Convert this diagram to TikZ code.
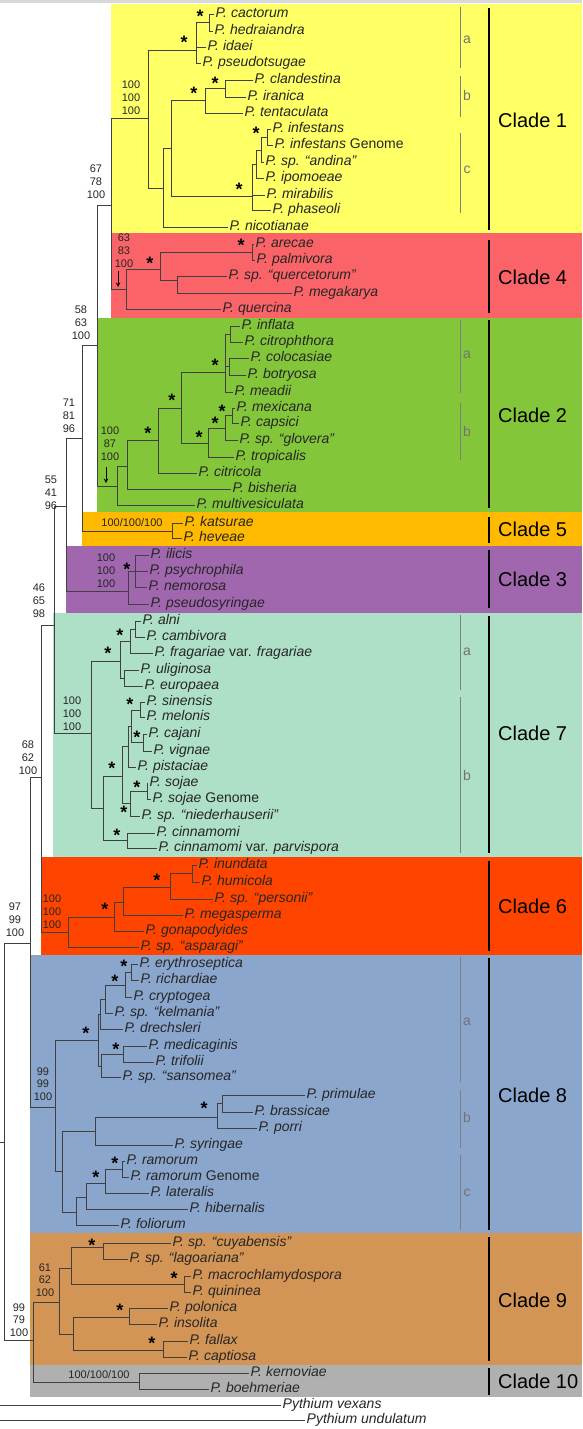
\documentclass[tikz,border=0pt]{standalone}
\usepackage{fontspec}
\setmainfont{Liberation Sans}
\usepackage{tikz}

\definecolor{cladeone}{HTML}{FFFF66}
\definecolor{cladefour}{HTML}{FA6468}
\definecolor{cladetwo}{HTML}{84C63A}
\definecolor{cladefive}{HTML}{FFBA00}
\definecolor{cladethree}{HTML}{A067AE}
\definecolor{cladeseven}{HTML}{AEDFC7}
\definecolor{cladesix}{HTML}{FF4400}
\definecolor{cladeeight}{HTML}{8BA6CC}
\definecolor{cladenine}{HTML}{D39555}
\definecolor{cladeten}{HTML}{B0B0B0}

\newcommand{\phy}[1]{\textit{P. #1}}
\newcommand{\taxfont}{\fontsize{14}{16}\selectfont}
\newcommand{\suppfont}{\fontsize{11}{12.8}\selectfont}

\tikzset{
  taxon/.style={anchor=west, inner sep=1.5pt, font=\taxfont, text=black!85, text height=10pt, text depth=3pt},
  supp/.style={inner sep=0pt, align=center, font=\suppfont, text=black!85},
  ast/.style={inner sep=0pt, font=\fontsize{18}{18}\selectfont\bfseries, text height=13pt, text depth=-7.8pt},
  cladetag/.style={anchor=west, inner sep=0pt, font=\fontsize{20}{20}\selectfont, text height=14.3pt, text depth=0pt},
  subtag/.style={inner sep=0pt, font=\taxfont, text=black!55, text height=10pt, text depth=3pt},
  edgeline/.style={draw=black!75, line width=0.8pt},
  cladebar/.style={draw=black, line width=1.4pt},
  subbar/.style={draw=black!50, line width=0.8pt},
  pointer/.style={->, >=stealth, draw=black, line width=1pt}
}

\begin{document}
\begin{tikzpicture}[x=1pt,y=1pt,yscale=-1,xscale=1]
\useasboundingbox (0,0) rectangle (582,1429);

%Shape: top rule
\fill[black!15] (0,0) rectangle (582,3);
%Shape: clade boxes
\fill[cladeone]   (111,4)    rectangle (582,233);
\fill[cladefour]  (111,233)  rectangle (582,318);
\fill[cladetwo]   (97,318)   rectangle (582,512);
\fill[cladefive]  (82,512)   rectangle (582,546);
\fill[cladethree] (66,546)   rectangle (582,613);
\fill[cladeseven] (53,613)   rectangle (582,857);
\fill[cladesix]   (41,857)   rectangle (582,955);
\fill[cladeeight] (30,955)   rectangle (582,1233);
\fill[cladenine]  (30,1233)  rectangle (582,1365);
\fill[cladeten]   (30,1365)  rectangle (582,1397);

% Clade 1 taxa
\node[taxon] (cac)  at (214,14)  {\phy{cactorum}};
\node[taxon] (hed)  at (213,31)  {\phy{hedraiandra}};
\node[taxon] (ida)  at (206,47)  {\phy{idaei}};
\node[taxon] (pst)  at (201,63)  {\phy{pseudotsugae}};
\node[taxon] (cla)  at (253,80)  {\phy{clandestina}};
\node[taxon] (ira)  at (246,97)  {\phy{iranica}};
\node[taxon] (ten)  at (243,113) {\phy{tentaculata}};
\node[taxon] (inf)  at (271,129) {\phy{infestans}};
\node[taxon] (infg) at (273,145) {\phy{infestans} Genome};
\node[taxon] (and)  at (264,162) {\phy{sp. ``andina''}};
\node[taxon] (ipo)  at (264,178) {\phy{ipomoeae}};
\node[taxon] (mir)  at (265,195) {\phy{mirabilis}};
\node[taxon] (pha)  at (271,210) {\phy{phaseoli}};
\node[taxon] (nic)  at (228,227) {\phy{nicotianae}};
\coordinate (ncac) at (209,22);
\coordinate (na)   at (196,50);
\coordinate (ncla) at (225,88);
\coordinate (nb)   at (205,100);
\coordinate (ninf) at (267,137);
\coordinate (nand) at (261,150);
\coordinate (nipo) at (256,164);
\coordinate (nc)   at (252,196);
\coordinate (nbc)  at (171,148);
\coordinate (nbcn) at (163,188);
\coordinate (nc1)  at (148,118);

% Clade 4 taxa
\node[taxon] (are)  at (254,244) {\phy{arecae}};
\node[taxon] (pal)  at (255,260) {\phy{palmivora}};
\node[taxon] (quer) at (227,276) {\phy{sp. ``quercetorum''}};
\node[taxon] (meg)  at (292,293) {\phy{megakarya}};
\node[taxon] (qcn)  at (221,309) {\phy{quercina}};
\coordinate (nare) at (252,252);
\coordinate (nque) at (177,280);
\coordinate (nap)  at (160,269);
\coordinate (nc4)  at (126,289);
\coordinate (nc14) at (111,205);

% Clade 2 taxa
\node[taxon] (infl) at (240,326) {\phy{inflata}};
\node[taxon] (citr) at (243,342) {\phy{citrophthora}};
\node[taxon] (col)  at (249,358) {\phy{colocasiae}};
\node[taxon] (bot)  at (246,375) {\phy{botryosa}};
\node[taxon] (mea)  at (233,392) {\phy{meadii}};
\node[taxon] (mex)  at (235,408) {\phy{mexicana}};
\node[taxon] (cap)  at (239,423) {\phy{capsici}};
\node[taxon] (glo)  at (238,440) {\phy{sp. ``glovera''}};
\node[taxon] (tro)  at (234,457) {\phy{tropicalis}};
\node[taxon] (citc) at (197,473) {\phy{citricola}};
\node[taxon] (bis)  at (231,489) {\phy{bisheria}};
\node[taxon] (mul)  at (195,505) {\phy{multivesiculata}};
\coordinate (ninfl) at (230,334);
\coordinate (ncol)  at (229,366);
\coordinate (ntwoa) at (225,372);
\coordinate (nmex)  at (232,415);
\coordinate (nglo)  at (225,428);
\coordinate (ntwob) at (208,443);
\coordinate (ntwoab) at (181,408);
\coordinate (ncit)  at (158,440);
\coordinate (nbis)  at (127,466);
\coordinate (nc2)   at (117,486);
\coordinate (nc142) at (97,345);

% Clade 5 taxa
\node[taxon] (kat) at (183,523) {\phy{katsurae}};
\node[taxon] (hev) at (182,538) {\phy{heveae}};
\coordinate (nc5)    at (172,531);
\coordinate (nc1425) at (82,438);

% Clade 3 taxa
\node[taxon] (ili) at (149,555) {\phy{ilicis}};
\node[taxon] (psy) at (148,571) {\phy{psychrophila}};
\node[taxon] (nem) at (147,587) {\phy{nemorosa}};
\node[taxon] (pss) at (149,604) {\phy{pseudosyringae}};
\coordinate (nili)    at (135,571);
\coordinate (nc3)     at (128,591);
\coordinate (nc14253) at (66,506);

% Clade 7 taxa
\node[taxon] (aln)  at (141,621) {\phy{alni}};
\node[taxon] (cam)  at (145,637) {\phy{cambivora}};
\node[taxon] (fra)  at (153,653) {\phy{fragariae} var. \textit{fragariae}};
\node[taxon] (uli)  at (139,670) {\phy{uliginosa}};
\node[taxon] (eur)  at (143,686) {\phy{europaea}};
\node[taxon] (sin)  at (145,702) {\phy{sinensis}};
\node[taxon] (mel)  at (145,717) {\phy{melonis}};
\node[taxon] (caj)  at (147,734) {\phy{cajani}};
\node[taxon] (vig)  at (152,751) {\phy{vignae}};
\node[taxon] (pis)  at (136,767) {\phy{pistaciae}};
\node[taxon] (soj)  at (148,783) {\phy{sojae}};
\node[taxon] (sojg) at (151,799) {\phy{sojae} Genome};
\node[taxon] (nie)  at (140,816) {\phy{sp. ``niederhauserii''}};
\node[taxon] (cin)  at (155,833) {\phy{cinnamomi}};
\node[taxon] (par)  at (157,848) {\phy{cinnamomi} var. \textit{parvispora}};
\coordinate (naln)  at (135,629);
\coordinate (nfra)  at (130,641);
\coordinate (nuli)  at (124,678);
\coordinate (nsevena) at (120,661);
\coordinate (nsin)  at (140,710);
\coordinate (ncaj)  at (143,742);
\coordinate (nsc)   at (131,726);
\coordinate (npis)  at (128,746);
\coordinate (nsoj)  at (147,791);
\coordinate (nnie)  at (130,803);
\coordinate (npn)   at (122,776);
\coordinate (ncin)  at (127,840);
\coordinate (nsevenb) at (103,808);
\coordinate (nc7)   at (91,733);
\coordinate (nc7up) at (54,625);

% Clade 6 taxa
\node[taxon] (inu)  at (197,865) {\phy{inundata}};
\node[taxon] (hum)  at (200,882) {\phy{humicola}};
\node[taxon] (per)  at (213,899) {\phy{sp. ``personii''}};
\node[taxon] (megs) at (183,915) {\phy{megasperma}};
\node[taxon] (gon)  at (144,931) {\phy{gonapodyides}};
\node[taxon] (asp)  at (139,947) {\phy{sp. ``asparagi''}};
\coordinate (ninu) at (192,873);
\coordinate (nper) at (170,887);
\coordinate (nmeg) at (123,902);
\coordinate (ngon) at (114,917);
\coordinate (nc6)  at (68,932);
\coordinate (nc37) at (41,777);

% Clade 8 taxa
\node[taxon] (ery)  at (138,964)  {\phy{erythroseptica}};
\node[taxon] (ric)  at (139,980)  {\phy{richardiae}};
\node[taxon] (cry)  at (132,997)  {\phy{cryptogea}};
\node[taxon] (kel)  at (113,1013) {\phy{sp. ``kelmania''}};
\node[taxon] (dre)  at (123,1029) {\phy{drechsleri}};
\node[taxon] (med)  at (147,1046) {\phy{medicaginis}};
\node[taxon] (tri)  at (154,1062) {\phy{trifolii}};
\node[taxon] (san)  at (121,1077) {\phy{sp. ``sansomea''}};
\node[taxon] (pri)  at (305,1095) {\phy{primulae}};
\node[taxon] (bra)  at (253,1112) {\phy{brassicae}};
\node[taxon] (por)  at (257,1128) {\phy{porri}};
\node[taxon] (syr)  at (173,1145) {\phy{syringae}};
\node[taxon] (ram)  at (125,1161) {\phy{ramorum}};
\node[taxon] (ramg) at (129,1177) {\phy{ramorum} Genome};
\node[taxon] (lat)  at (149,1193) {\phy{lateralis}};
\node[taxon] (hib)  at (188,1209) {\phy{hibernalis}};
\node[taxon] (fol)  at (119,1225) {\phy{foliorum}};
\coordinate (nery) at (131,972);
\coordinate (ncry) at (125,985);
\coordinate (nkel) at (105,999);
\coordinate (ndre) at (100,1014);
\coordinate (nmed) at (123,1054);
\coordinate (nsan) at (101,1066);
\coordinate (neighta) at (98,1040);
\coordinate (npri) at (222,1103);
\coordinate (npor) at (217,1117);
\coordinate (neightb) at (95,1131);
\coordinate (nram) at (122,1169);
\coordinate (nlat) at (105,1183);
\coordinate (nhib) at (86,1197);
\coordinate (neightc) at (76,1212);
\coordinate (neightbc) at (62,1171);
\coordinate (nc8)  at (55,1107);
\coordinate (nc376) at (30,943);

% Clade 9 taxa
\node[taxon] (cuy) at (171,1243) {\phy{sp. ``cuyabensis''}};
\node[taxon] (lag) at (128,1259) {\phy{sp. ``lagoariana''}};
\node[taxon] (mac) at (191,1276) {\phy{macrochlamydospora}};
\node[taxon] (qui) at (191,1292) {\phy{quininea}};
\node[taxon] (pol) at (168,1308) {\phy{polonica}};
\node[taxon] (ins) at (157,1324) {\phy{insolita}};
\node[taxon] (fal) at (188,1341) {\phy{fallax}};
\node[taxon] (cpt) at (187,1357) {\phy{captiosa}};
\coordinate (ncuy) at (103,1247);
\coordinate (nmac) at (184,1284);
\coordinate (nninea) at (71,1268);
\coordinate (npol) at (129,1317);
\coordinate (nfal) at (163,1350);
\coordinate (nnineb) at (73,1334);
\coordinate (nc9)  at (59,1302);

% Clade 10 taxa
\node[taxon] (ker) at (249,1373) {\phy{kernoviae}};
\node[taxon] (boe) at (209,1389) {\phy{boehmeriae}};
\coordinate (nc10) at (139,1382);
\coordinate (n910) at (33,1340);
\coordinate (nroot) at (4.5,1142);

% Outgroups
\node[taxon] (pvex) at (281,1405) {\textit{Pythium vexans}};
\node[taxon] (pund) at (305,1420) {\textit{Pythium undulatum}};
\coordinate (rootin) at (0,1142);
\coordinate (pvexin) at (0,1405);
\coordinate (pundin) at (0,1420);

%Straight Lines: branches
\foreach \p/\c in {ncac/cac, ncac/hed, na/ncac, na/ida, na/pst, ncla/cla, ncla/ira, nb/ncla, nb/ten,
  ninf/inf, ninf/infg, nand/ninf, nand/and, nipo/nand, nipo/ipo, nc/nipo, nc/mir, nc/pha,
  nbc/nb, nbc/nc, nbcn/nbc, nbcn/nic, nc1/na, nc1/nbcn}
  \draw[edgeline] (\p) |- (\c);
\foreach \p/\c in {nare/are, nare/pal, nque/quer, nque/meg, nap/nare, nap/nque, nc4/nap, nc4/qcn,
  nc14/nc1, nc14/nc4}
  \draw[edgeline] (\p) |- (\c);
\foreach \p/\c in {ninfl/infl, ninfl/citr, ncol/col, ncol/bot, ntwoa/ninfl, ntwoa/ncol, ntwoa/mea,
  nmex/mex, nmex/cap, nglo/nmex, nglo/glo, ntwob/nglo, ntwob/tro, ntwoab/ntwoa, ntwoab/ntwob,
  ncit/ntwoab, ncit/citc, nbis/ncit, nbis/bis, nc2/nbis, nc2/mul, nc142/nc14, nc142/nc2}
  \draw[edgeline] (\p) |- (\c);
\foreach \p/\c in {nc5/kat, nc5/hev, nc1425/nc142, nc1425/nc5,
  nili/ili, nili/psy, nili/nem, nc3/nili, nc3/pss, nc14253/nc1425, nc14253/nc3}
  \draw[edgeline] (\p) |- (\c);
\foreach \p/\c in {naln/aln, naln/cam, nfra/naln, nfra/fra, nuli/uli, nuli/eur, nsevena/nfra, nsevena/nuli,
  nsin/sin, nsin/mel, ncaj/caj, ncaj/vig, nsc/nsin, nsc/ncaj, npis/nsc, npis/pis,
  nsoj/soj, nsoj/sojg, nnie/nsoj, nnie/nie, npn/npis, npn/nnie, ncin/cin, ncin/par,
  nsevenb/npn, nsevenb/ncin, nc7/nsevena, nc7/nsevenb, nc7up/nc14253, nc7up/nc7}
  \draw[edgeline] (\p) |- (\c);
\foreach \p/\c in {ninu/inu, ninu/hum, nper/ninu, nper/per, nmeg/nper, nmeg/megs, ngon/nmeg, ngon/gon,
  nc6/ngon, nc6/asp, nc37/nc7up, nc37/nc6}
  \draw[edgeline] (\p) |- (\c);
\foreach \p/\c in {nery/ery, nery/ric, ncry/nery, ncry/cry, nkel/ncry, nkel/kel, ndre/nkel, ndre/dre,
  nmed/med, nmed/tri, nsan/nmed, nsan/san, neighta/ndre, neighta/nsan,
  npri/pri, npri/bra, npor/npri, npor/por, neightb/npor, neightb/syr,
  nram/ram, nram/ramg, nlat/nram, nlat/lat, nhib/nlat, nhib/hib, neightc/nhib, neightc/fol,
  neightbc/neightb, neightbc/neightc, nc8/neighta, nc8/neightbc, nc376/nc37, nc376/nc8}
  \draw[edgeline] (\p) |- (\c);
\foreach \p/\c in {ncuy/cuy, ncuy/lag, nmac/mac, nmac/qui, nninea/ncuy, nninea/nmac,
  npol/pol, npol/ins, nfal/fal, nfal/cpt, nnineb/npol, nnineb/nfal, nc9/nninea, nc9/nnineb,
  nc10/ker, nc10/boe, n910/nc9, n910/nc10, nroot/nc376, nroot/n910}
  \draw[edgeline] (\p) |- (\c);
\draw[edgeline] (rootin) -- (nroot);
\draw[edgeline] (pvexin) -- (pvex);
\draw[edgeline] (pundin) -- (pund);

% Text Node: support values
\node[supp] at (131,98)   {100\\100\\100};
\node[supp] at (96,182)   {67\\78\\100};
\node[supp] at (124,251)  {63\\83\\100};
\node[supp] at (81,323)   {58\\63\\100};
\node[supp] at (110,444)  {100\\87\\100};
\node[supp] at (69,416)   {71\\81\\96};
\node[supp] at (51,493)   {55\\41\\96};
\node[supp] at (132,523)  {100/100/100};
\node[supp] at (106,571)  {100\\100\\100};
\node[supp] at (39,601)   {46\\65\\98};
\node[supp] at (72,714)   {100\\100\\100};
\node[supp] at (28,758)   {68\\62\\100};
\node[supp] at (52,912)   {100\\100\\100};
\node[supp] at (15,920)   {97\\99\\100};
\node[supp] at (43,1084)  {99\\99\\100};
\node[supp] at (45,1280)  {61\\62\\100};
\node[supp] at (19,1320)  {99\\79\\100};
\node[supp] at (99,1375)  {100/100/100};

% arrows
\draw[pointer] (118,271) -- (118,287);
\draw[pointer] (106,467) -- (106,483);

% Text Node: asterisks
\foreach \x/\y in {200/16, 184/42, 215/83, 194/93, 256/133, 239/189,
  241/245, 150/263,
  215/365, 172/400, 222/411, 215/423, 199/437, 148/433,
  127/569,
  120/635, 108/653, 130/704, 137/737, 112/768, 137/787, 124/812, 117/835,
  157/880, 105/909,
  124/966, 115/981, 86/1033, 116/1049, 204/1108, 115/1163, 96/1177,
  92/1245, 174/1278, 120/1310, 152/1343}
  \node[ast] at (\x,\y) {*};

%Straight Lines: subclade bars
\draw[subbar] (460,7) -- (460,68);
\draw[subbar] (460,76) -- (460,117);
\draw[subbar] (460,133) -- (460,213);
\draw[subbar] (460,320) -- (460,393);
\draw[subbar] (460,403) -- (460,460);
\draw[subbar] (460,615) -- (460,690);
\draw[subbar] (460,697) -- (460,853);
\draw[subbar] (460,957) -- (460,1082);
\draw[subbar] (460,1090) -- (460,1148);
\draw[subbar] (460,1155) -- (460,1230);
\node[subtag] at (467,40)   {a};
\node[subtag] at (467,97)   {b};
\node[subtag] at (467,170)  {c};
\node[subtag] at (467,355)  {a};
\node[subtag] at (467,433)  {b};
\node[subtag] at (467,652)  {a};
\node[subtag] at (467,777)  {b};
\node[subtag] at (467,1022) {a};
\node[subtag] at (467,1119) {b};
\node[subtag] at (467,1193) {c};

%Straight Lines: clade bars
\draw[cladebar] (489,8) -- (489,230);
\draw[cladebar] (489,240) -- (489,313);
\draw[cladebar] (489,320) -- (489,508);
\draw[cladebar] (489,517) -- (489,543);
\draw[cladebar] (489,550) -- (489,608);
\draw[cladebar] (489,616) -- (489,853);
\draw[cladebar] (489,861) -- (489,951);
\draw[cladebar] (489,958) -- (489,1230);
\draw[cladebar] (489,1237) -- (489,1361);
\draw[cladebar] (489,1368) -- (489,1395);
\node[cladetag] (cl1)  at (498,120)  {Clade 1};
\node[cladetag] (cl4)  at (498,277)  {Clade 4};
\node[cladetag] (cl2)  at (498,415)  {Clade 2};
\node[cladetag] (cl5)  at (498,529)  {Clade 5};
\node[cladetag] (cl3)  at (498,579)  {Clade 3};
\node[cladetag] (cl7)  at (498,733)  {Clade 7};
\node[cladetag] (cl6)  at (498,906)  {Clade 6};
\node[cladetag] (cl8)  at (498,1095) {Clade 8};
\node[cladetag] (cl9)  at (498,1300) {Clade 9};
\node[cladetag] (cl10) at (498,1381) {Clade 10};
\end{tikzpicture}
\end{document}
